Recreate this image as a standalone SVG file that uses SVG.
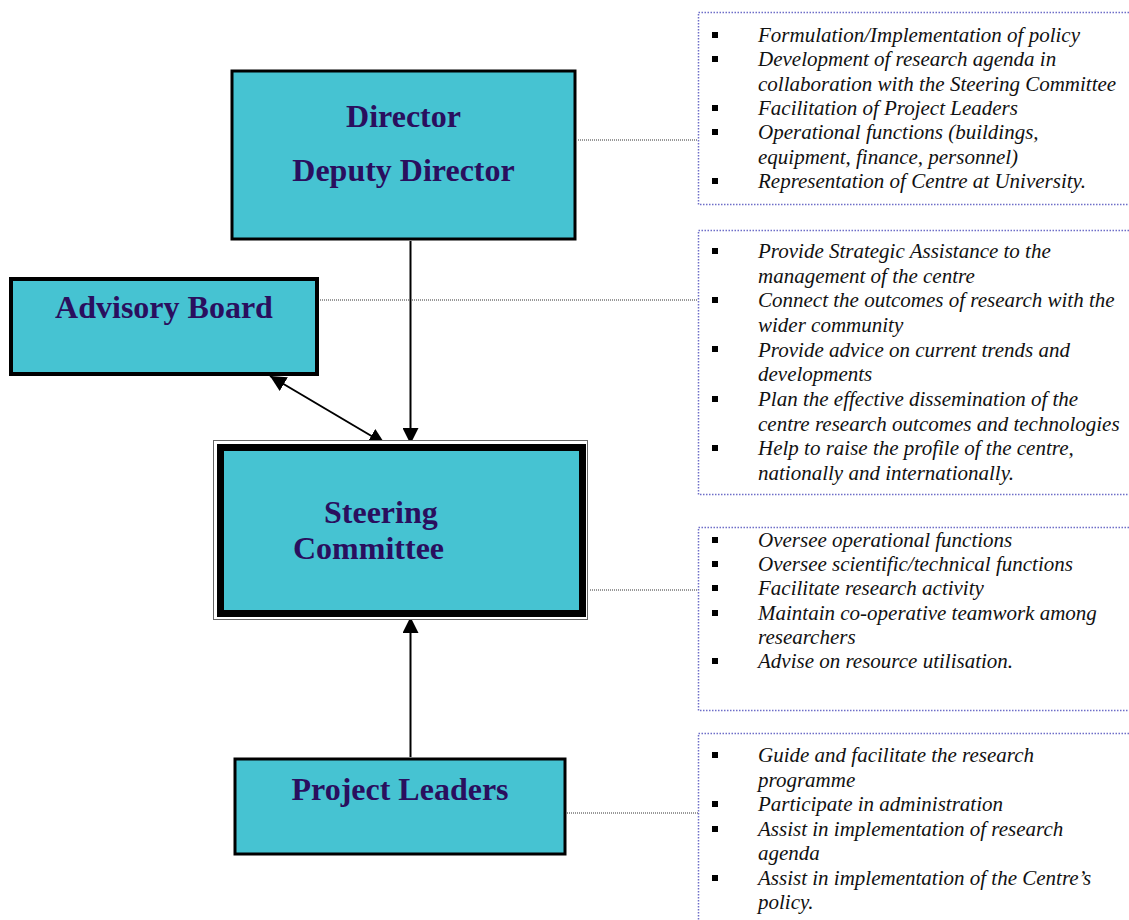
<svg xmlns="http://www.w3.org/2000/svg" width="1129" height="920" viewBox="0 0 1129 920">
<defs>
<style>
.node{fill:#46C3D2;stroke:#000;}
.title{font-family:"Liberation Serif","Times New Roman",serif;font-weight:bold;font-size:32px;fill:#2A0F5E;}
.item{font-family:"Liberation Serif","Times New Roman",serif;font-style:italic;font-size:21px;fill:#111;}
.dot{stroke:#333;stroke-width:1;stroke-dasharray:1 1;fill:none;}
.note{stroke:#6E6EC8;stroke-width:1.5;stroke-dasharray:1.5 1.5;fill:none;}
.conn{stroke:#000;stroke-width:2;fill:none;}
.bul{fill:#000;}
</style>
<marker id="ah" viewBox="0 0 16 16" refX="16" refY="8" markerWidth="16" markerHeight="16" markerUnits="userSpaceOnUse" orient="auto-start-reverse">
<path d="M0,0 L16,8 L0,16 z" fill="#000"/>
</marker>
</defs>
<rect width="1129" height="920" fill="#fff"/>

<g id="connectors">
<line class="dot" x1="578" y1="140" x2="698" y2="140"/>
<line class="dot" x1="320" y1="300" x2="698" y2="300"/>
<line class="dot" x1="590" y1="590" x2="698" y2="590"/>
<line class="dot" x1="567" y1="813" x2="698" y2="813"/>
<line class="conn" x1="410.5" y1="241" x2="410.5" y2="444" marker-end="url(#ah)"/>
<line class="conn" x1="270" y1="376" x2="385" y2="444" marker-start="url(#ah)" marker-end="url(#ah)"/>
<line class="conn" x1="410.5" y1="757" x2="410.5" y2="617" marker-end="url(#ah)"/>
</g>

<g id="director">
<rect class="node" x="232" y="71" width="343" height="168" stroke-width="3"/>
<text class="title" x="403.5" y="127" text-anchor="middle">Director</text>
<text class="title" x="403.5" y="181" text-anchor="middle">Deputy Director</text>
</g>

<g id="advisory-board">
<rect class="node" x="11" y="279" width="306" height="95" stroke-width="4"/>
<text class="title" x="164" y="318" text-anchor="middle">Advisory Board</text>
</g>

<g id="steering-committee">
<rect x="213.5" y="440.5" width="374" height="179" fill="#fff" stroke="#666" stroke-width="1"/>
<rect class="node" x="220.5" y="447.5" width="362" height="166" stroke-width="7"/>
<text class="title" x="324" y="523">Steering</text>
<text class="title" x="293" y="559">Committee</text>
</g>

<g id="project-leaders">
<rect class="node" x="235" y="759" width="330" height="95" stroke-width="3"/>
<text class="title" x="400" y="800" text-anchor="middle">Project Leaders</text>
</g>

<g id="note-director">
<path class="note" d="M1129,12.5 H698.5 V204.5 H1129"/>
<rect class="bul" x="712" y="32" width="6" height="6"/>
<rect class="bul" x="712" y="56" width="6" height="6"/>
<rect class="bul" x="712" y="105" width="6" height="6"/>
<rect class="bul" x="712" y="129" width="6" height="6"/>
<rect class="bul" x="712" y="178" width="6" height="6"/>
<text class="item" x="758" y="42">Formulation/Implementation of policy</text>
<text class="item" x="758" y="66.3">Development of research agenda in</text>
<text class="item" x="758" y="90.6">collaboration with the Steering Committee</text>
<text class="item" x="758" y="114.9">Facilitation of Project  Leaders</text>
<text class="item" x="758" y="139.2">Operational functions (buildings,</text>
<text class="item" x="758" y="163.5">equipment, finance, personnel)</text>
<text class="item" x="758" y="187.8">Representation of Centre at University.</text>
</g>

<g id="note-advisory">
<path class="note" d="M1129,230.5 H698.5 V494.5 H1129"/>
<rect class="bul" x="712" y="248" width="6" height="6"/>
<rect class="bul" x="712" y="297" width="6" height="6"/>
<rect class="bul" x="712" y="346" width="6" height="6"/>
<rect class="bul" x="712" y="396" width="6" height="6"/>
<rect class="bul" x="712" y="445" width="6" height="6"/>
<text class="item" x="758" y="258">Provide Strategic Assistance to the</text>
<text class="item" x="758" y="282.7">management of the centre</text>
<text class="item" x="758" y="307.3">Connect the outcomes of research with the</text>
<text class="item" x="758" y="332">wider community</text>
<text class="item" x="758" y="356.7">Provide advice on current trends and</text>
<text class="item" x="758" y="381.3">developments</text>
<text class="item" x="758" y="406">Plan the effective dissemination of the</text>
<text class="item" x="758" y="430.7">centre research outcomes and technologies</text>
<text class="item" x="758" y="455.3">Help to raise the profile of the centre,</text>
<text class="item" x="758" y="480">nationally and internationally.</text>
</g>

<g id="note-steering">
<path class="note" d="M1129,527.5 H698.5 V710.5 H1129"/>
<rect class="bul" x="712" y="537" width="6" height="6"/>
<rect class="bul" x="712" y="561" width="6" height="6"/>
<rect class="bul" x="712" y="585" width="6" height="6"/>
<rect class="bul" x="712" y="610" width="6" height="6"/>
<rect class="bul" x="712" y="658" width="6" height="6"/>
<text class="item" x="758" y="547">Oversee operational functions</text>
<text class="item" x="758" y="571.2">Oversee scientific/technical functions</text>
<text class="item" x="758" y="595.4">Facilitate research activity</text>
<text class="item" x="758" y="619.6">Maintain co-operative teamwork among</text>
<text class="item" x="758" y="643.8">researchers</text>
<text class="item" x="758" y="668">Advise on resource utilisation.</text>
</g>

<g id="note-project">
<path class="note" d="M1129,733.5 H698.5 V920"/>
<rect class="bul" x="712" y="752" width="6" height="6"/>
<rect class="bul" x="712" y="801" width="6" height="6"/>
<rect class="bul" x="712" y="826" width="6" height="6"/>
<rect class="bul" x="712" y="875" width="6" height="6"/>
<text class="item" x="758" y="762">Guide and facilitate the research</text>
<text class="item" x="758" y="786.5">programme</text>
<text class="item" x="758" y="811">Participate in administration</text>
<text class="item" x="758" y="835.5">Assist in implementation of research</text>
<text class="item" x="758" y="860">agenda</text>
<text class="item" x="758" y="884.5">Assist in implementation of the Centre’s</text>
<text class="item" x="758" y="909">policy.</text>
</g>
</svg>
